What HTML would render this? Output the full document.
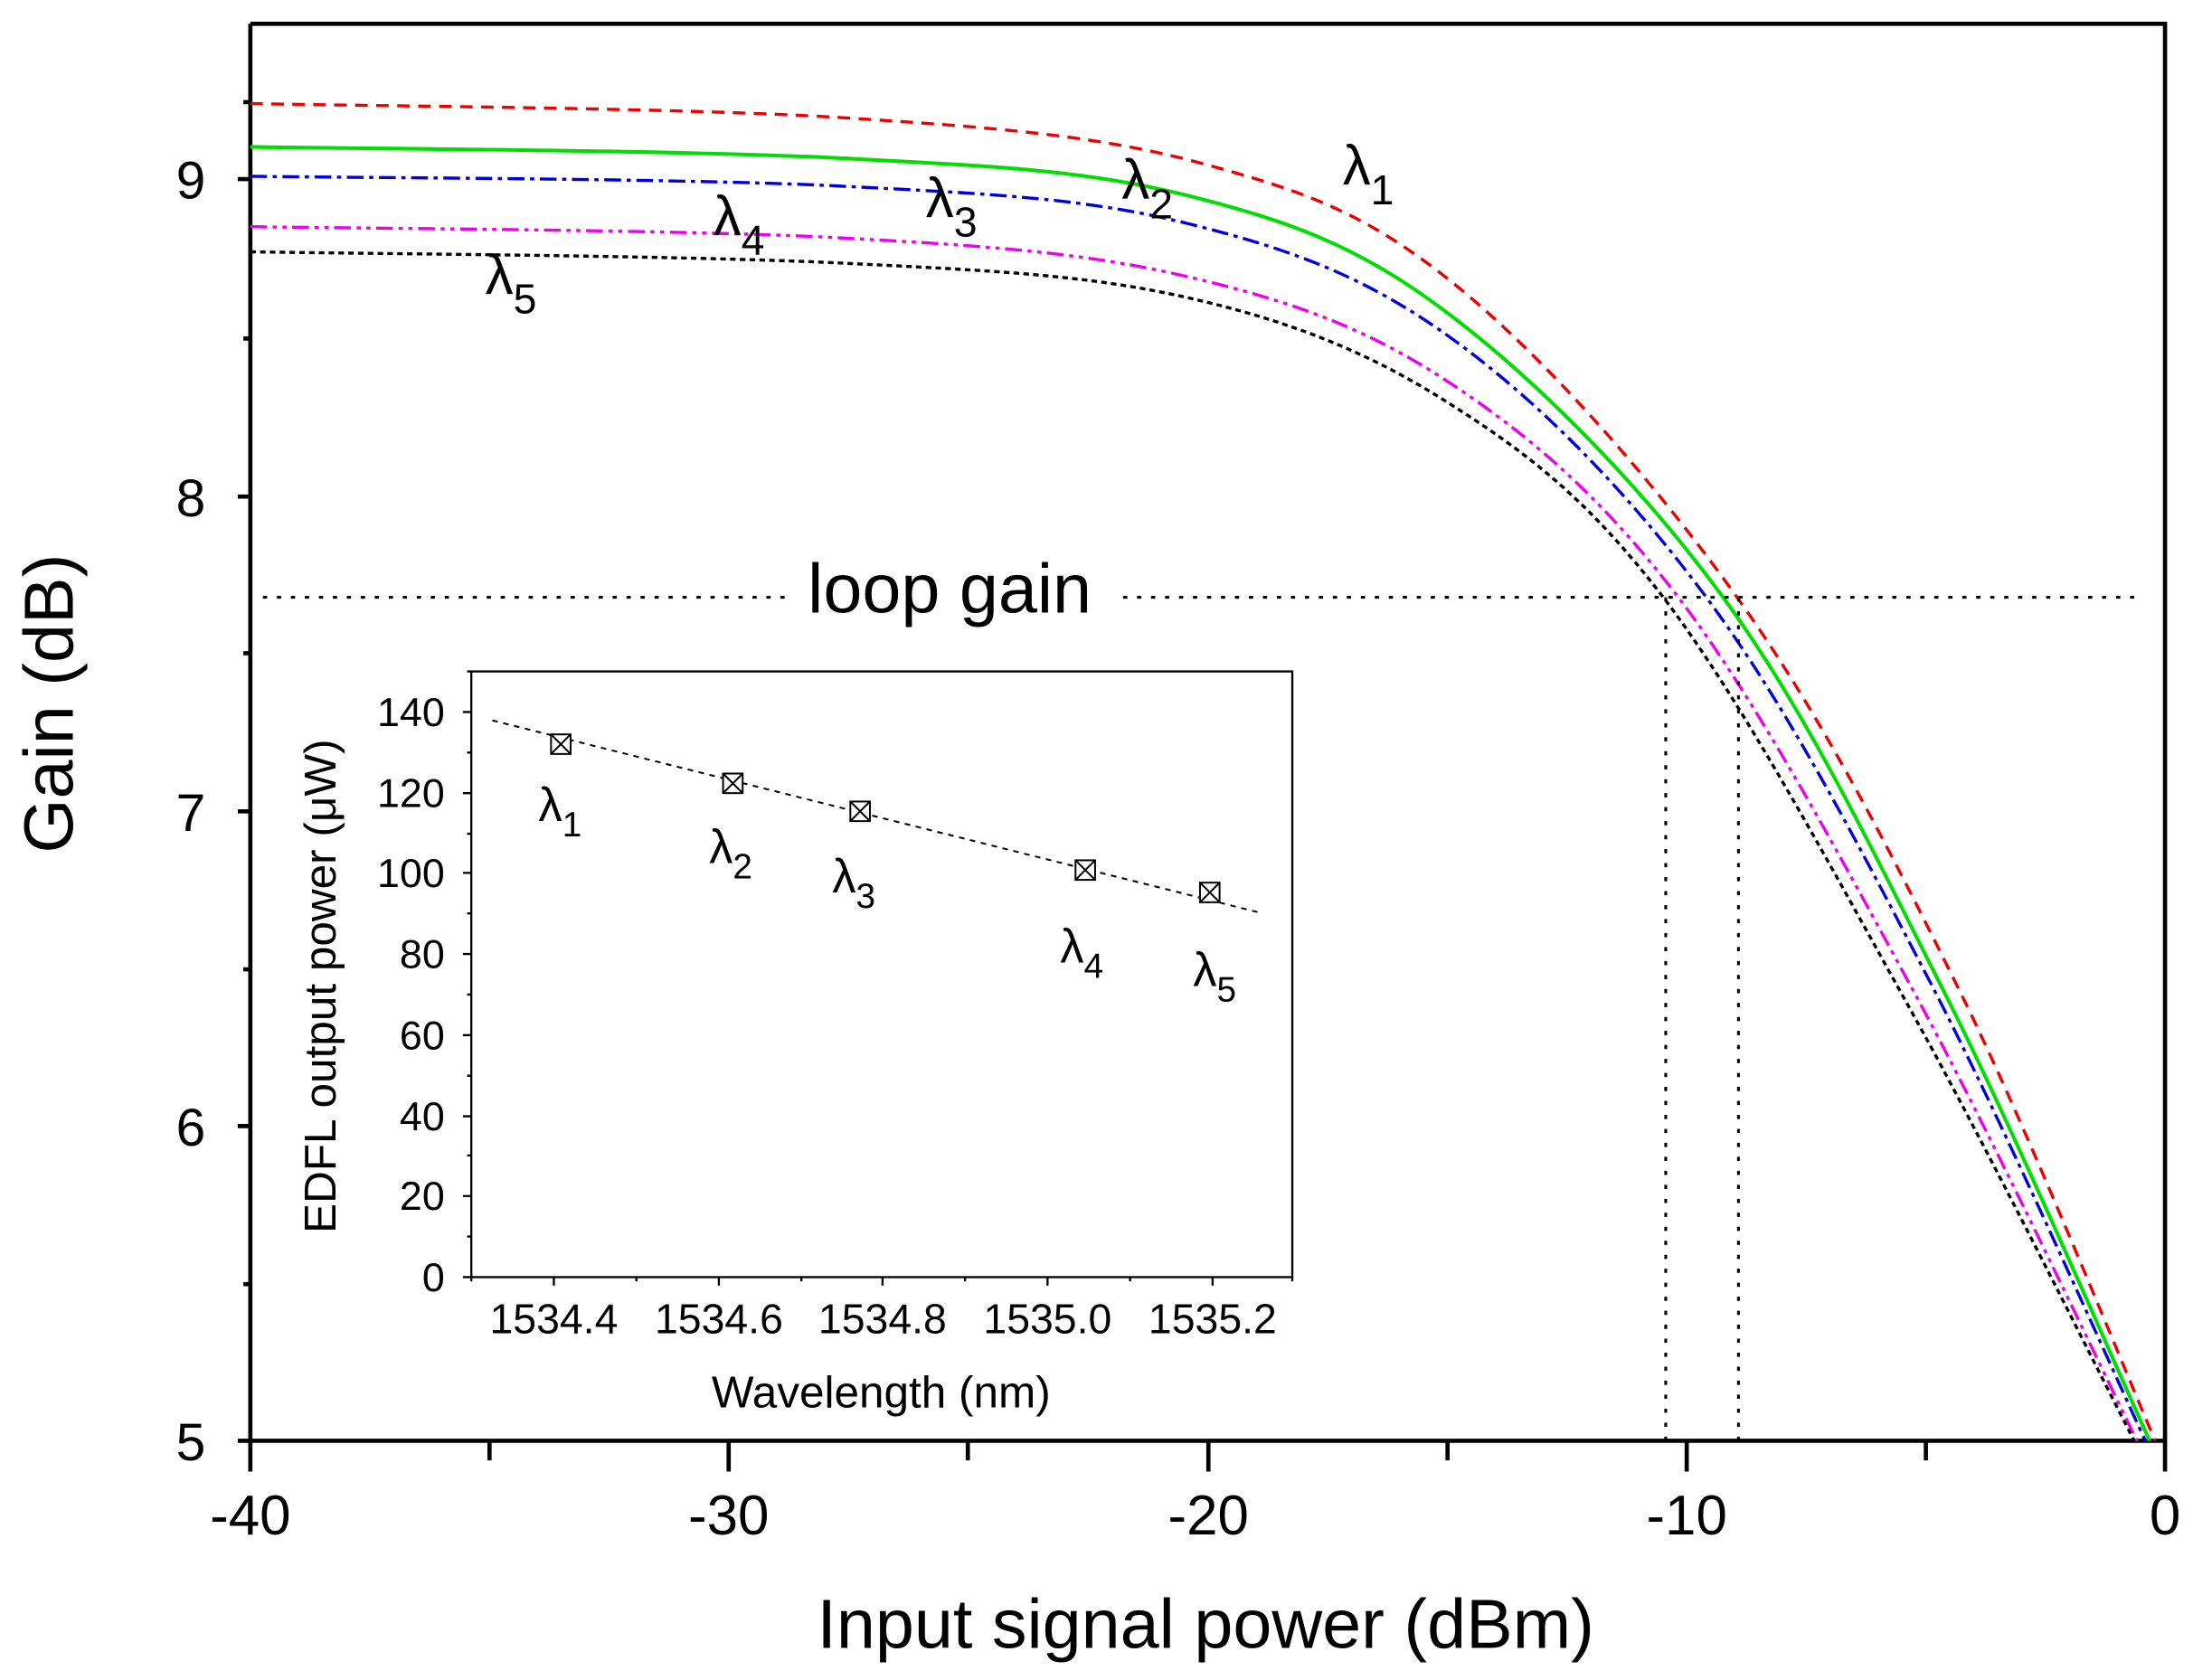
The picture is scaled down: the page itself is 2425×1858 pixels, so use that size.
<!DOCTYPE html><html><head><style>html,body{margin:0;padding:0;background:#fff}svg{display:block}text{font-family:"Liberation Sans",sans-serif;fill:#000}</style></head><body>
<svg id="s" width="2425" height="1858" viewBox="0 0 1568 1201" preserveAspectRatio="none" xmlns="http://www.w3.org/2000/svg">
<rect width="1568" height="1201" fill="#fff"/>
<g stroke="#000" stroke-width="3" fill="none">
<path d="M179 17V1030H1548V17H179"/>
<path d="M170 128H179M170 355H179M170 580H179M170 805H179M170 1030H179"/>
<path d="M174 242H179M174 467H179M174 693H179M174 918H179M174 73H179"/>
<path d="M179 1030V1052M521 1030V1052M864 1030V1052M1206 1030V1052M1548 1030V1052M350 1030V1044M692 1030V1044M1035 1030V1044M1377 1030V1044"/>
</g>
<g font-size="38" text-anchor="end"><text x="147" y="142">9</text><text x="147" y="369">8</text><text x="147" y="594">7</text><text x="147" y="819">6</text><text x="147" y="1044">5</text></g>
<g font-size="40" text-anchor="middle"><text x="179" y="1097">-40</text><text x="521" y="1097">-30</text><text x="864" y="1097">-20</text><text x="1206" y="1097">-10</text><text x="1548" y="1097">0</text></g>
<text x="862" y="1178" font-size="50" text-anchor="middle">Input signal power (dBm)</text>
<text transform="translate(52,503) rotate(-90)" font-size="50" text-anchor="middle">Gain (dB)</text>
<g fill="none" stroke-width="2.2">
<path id="c1" stroke="#e00" stroke-dasharray="9,6"/>
<path id="c2" stroke="#0d0" stroke-width="2.6"/>
<path id="c3" stroke="#00d" stroke-dasharray="12,4,3,4"/>
<path id="c4" stroke="#e0e" stroke-dasharray="12,4,3,4,3,4"/>
<path id="c5" stroke="#000" stroke-dasharray="4,3"/>
</g>
<g stroke="#000" stroke-width="2" stroke-dasharray="3,7" fill="none">
<path d="M188 427H565M803 427H1530M1191 427V1030M1243 427V1030"/>
</g>
<text x="679" y="438" font-size="50" text-anchor="middle">loop gain</text>
<g font-size="40"><text x="960" y="132">λ<tspan font-size="30" dy="14">1</tspan></text>
<text x="802" y="142">λ<tspan font-size="30" dy="14">2</tspan></text>
<text x="662" y="155">λ<tspan font-size="30" dy="14">3</tspan></text>
<text x="510" y="168">λ<tspan font-size="30" dy="14">4</tspan></text>
<text x="347" y="210">λ<tspan font-size="30" dy="14">5</tspan></text></g>
<rect x="337" y="480" width="587" height="433" fill="#fff" stroke="#000" stroke-width="1.5"/>
<g stroke="#000" stroke-width="1.5"><path d="M331 913H337M331 855H337M331 798H337M331 740H337M331 682H337M331 624H337M331 567H337M331 509H337M334 884H337M334 826H337M334 769H337M334 711H337M334 653H337M334 596H337M334 538H337M334 480H337"/>
<path d="M396 913V919M514 913V919M631 913V919M749 913V919M867 913V919M337 913V916M455 913V916M573 913V916M690 913V916M808 913V916M924 913V916"/></g>
<g font-size="29" text-anchor="end"><text x="318" y="923">0</text><text x="318" y="865">20</text><text x="318" y="808">40</text><text x="318" y="750">60</text><text x="318" y="692">80</text><text x="318" y="634">100</text><text x="318" y="577">120</text><text x="318" y="519">140</text></g>
<g font-size="30" text-anchor="middle"><text x="396" y="953">1534.4</text><text x="514" y="953">1534.6</text><text x="631" y="953">1534.8</text><text x="749" y="953">1535.0</text><text x="867" y="953">1535.2</text></g>
<text x="630" y="1006" font-size="32" text-anchor="middle">Wavelength (nm)</text>
<text transform="translate(240,705) rotate(-90)" font-size="32" text-anchor="middle">EDFL output power (μW)</text>
<path d="M352 515L903 653" stroke="#000" stroke-width="1.3" stroke-dasharray="4,4"/>
<g fill="#fff" stroke="#000" stroke-width="1.3">
<g transform="translate(401,532)"><rect x="-7" y="-7" width="14" height="14"/><path d="M-7 -7L7 7M7 -7L-7 7"/></g>
<g transform="translate(524,560)"><rect x="-7" y="-7" width="14" height="14"/><path d="M-7 -7L7 7M7 -7L-7 7"/></g>
<g transform="translate(615,580)"><rect x="-7" y="-7" width="14" height="14"/><path d="M-7 -7L7 7M7 -7L-7 7"/></g>
<g transform="translate(776,622)"><rect x="-7" y="-7" width="14" height="14"/><path d="M-7 -7L7 7M7 -7L-7 7"/></g>
<g transform="translate(865,638)"><rect x="-7" y="-7" width="14" height="14"/><path d="M-7 -7L7 7M7 -7L-7 7"/></g></g>
<g font-size="34"><text x="385" y="587">λ<tspan font-size="25" dy="11">1</tspan></text>
<text x="507" y="617">λ<tspan font-size="25" dy="11">2</tspan></text>
<text x="595" y="638">λ<tspan font-size="25" dy="11">3</tspan></text>
<text x="758" y="688">λ<tspan font-size="25" dy="11">4</tspan></text>
<text x="853" y="705">λ<tspan font-size="25" dy="11">5</tspan></text></g>
</svg>
<script>
var D={
c1:[[179,74],[600,84],[860,117],[1041,204],[1242,427],[1400,706],[1541,1030]],
c2:[[179,105],[600,113],[850,140],[1034,223],[1232,427],[1390,709],[1537,1030]],
c3:[[179,126],[600,133],[850,160],[1038,242],[1220,427],[1380,702],[1534,1030]],
c4:[[179,162],[600,170],[850,198],[1034,272],[1200,427],[1370,712],[1528,1030]],
c5:[[179,180],[600,188],[850,213],[1034,287],[1190,428],[1365,720],[1526,1030]]};
for(var k in D){var p=D[k],d="M"+p[0][0]+" "+p[0][1];
for(var i=0;i<p.length-1;i++){var a=p[Math.max(i-1,0)],b=p[i],c=p[i+1],e=p[Math.min(i+2,p.length-1)];
d+="C"+(b[0]+(c[0]-a[0])/6)+" "+(b[1]+(c[1]-a[1])/6)+" "+(c[0]-(e[0]-b[0])/6)+" "+(c[1]-(e[1]-b[1])/6)+" "+c[0]+" "+c[1];}
document.getElementById(k).setAttribute("d",d);}
</script>
</body></html>
